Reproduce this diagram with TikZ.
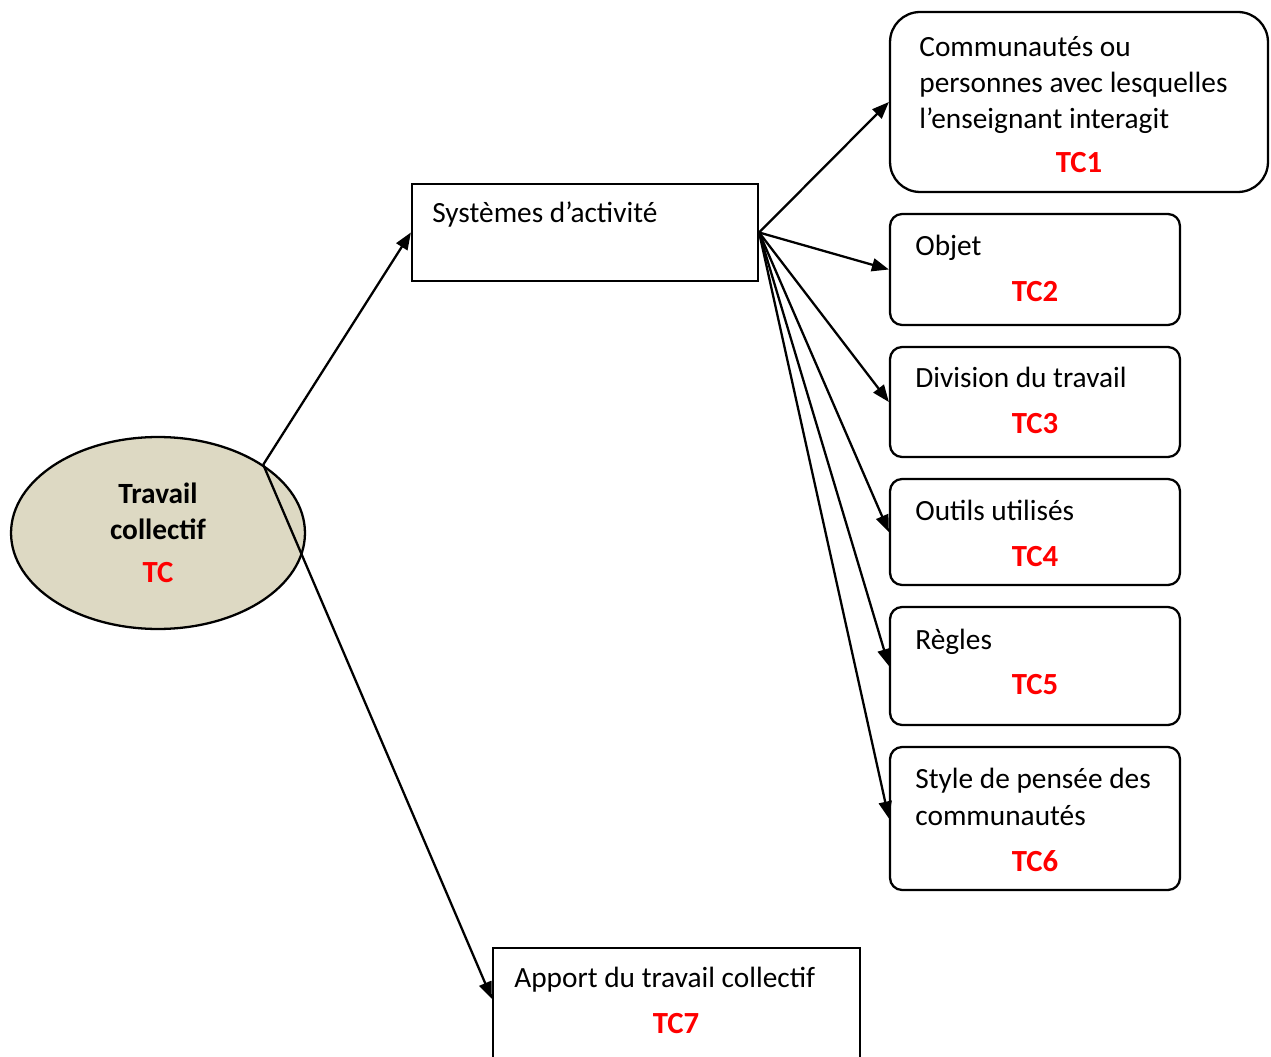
\documentclass[tikz,border=0pt]{standalone}
\usepackage{fontspec}
\setmainfont{Carlito}
\usetikzlibrary{shapes.geometric, arrows.meta}
\definecolor{beige}{HTML}{DDD9C3}
\tikzset{
    font=\fontsize{16.7}{20.5}\selectfont,
    every node/.style={
        inner sep=0pt,
        align=left,
    },
    theme/.style={          % central ellipse
        ellipse,
        draw,
        line width=1.3pt,
        fill=beige,
        align=center,
        font=\fontsize{16.7}{20.5}\selectfont\bfseries,
        minimum width=5.88cm,
        minimum height=3.84cm
    },
    plainbox/.style={       % square boxes
        draw,
        line width=1.3pt,
        minimum width=#1
    },
    roundbox/.style={       % boxes with rounded corners
        draw,
        line width=1.3pt,
        rounded corners=0.24cm,
        minimum width=5.8cm
    },
    code/.style={           % red codes TC1 ... TC7
        anchor=base,
        text=red,
        font=\fontsize{17.5}{20.5}\selectfont\bfseries
    },
    txt/.style={anchor=base west},   % base = last line
    link/.style={           % arrows
        line width=1.3pt,
        -{Triangle[length=0.34cm, width=0.26cm]}
    }
}

\begin{document}
\begin{tikzpicture}[x=0.02cm, y=-0.02cm]
    \useasboundingbox (0,0) rectangle (1271,1057);
    \clip (0,0) rectangle (1271,1057);
    % boxes
    \node[theme] (tc) at (158,533) {Travail\\collectif\\[0.14cm]{\fontsize{17.5}{20.5}\selectfont\textcolor{red}{TC}}};
    \node[plainbox=6.92cm, minimum height=1.94cm] (sys) at (585,232.5) {};
    \node[roundbox, rounded corners=0.6cm, minimum width=7.56cm, minimum height=3.6cm] (tc1) at (1079,102) {};
    \node[roundbox, minimum height=2.22cm] (tc2) at (1035,269.5) {};
    \node[roundbox, minimum height=2.2cm] (tc3) at (1035,402) {};
    \node[roundbox, minimum height=2.12cm] (tc4) at (1035,532) {};
    \node[roundbox, minimum height=2.36cm] (tc5) at (1035,666) {};
    \node[roundbox, minimum height=2.86cm] (tc6) at (1035,818.5) {};
    \node[plainbox=7.34cm, minimum height=2.64cm] (tc7) at (676.5,1014) {};
    % texts
    \node[txt] (systxt) at (432,223) {Systèmes d’activité};
    \node[txt] (tc1txt) at (919,129) {Communautés ou\\personnes avec lesquelles\\l’enseignant interagit};
    \node[code] (tc1code) at (1079,173) {TC1};
    \node[txt] (tc2txt) at (915,256) {Objet};
    \node[code] (tc2code) at (1035,302) {TC2};
    \node[txt] (tc3txt) at (915,388) {Division du travail};
    \node[code] (tc3code) at (1035,434) {TC3};
    \node[txt] (tc4txt) at (915,520) {Outils utilisés};
    \node[code] (tc4code) at (1035,566) {TC4};
    \node[txt] (tc5txt) at (915,649) {Règles};
    \node[code] (tc5code) at (1035,694) {TC5};
    \node[txt] (tc6txt) at (915,825) {Style de pensée des\\communautés};
    \node[code] (tc6code) at (1035,871) {TC6};
    \node[txt] (tc7txt) at (514,987) {Apport du travail collectif};
    \node[code] (tc7code) at (676,1033) {TC7};
    % arrows
    \coordinate (tc7in) at ([yshift=-1.04cm]tc7.north west);
    \draw[link] (tc.33.6) -- (sys.west);
    \draw[link] (tc.33.6) -- (tc7in);
    \foreach \i in {1,...,6}
        \draw[link] (sys.east) -- (tc\i.west);
\end{tikzpicture}
\end{document}
